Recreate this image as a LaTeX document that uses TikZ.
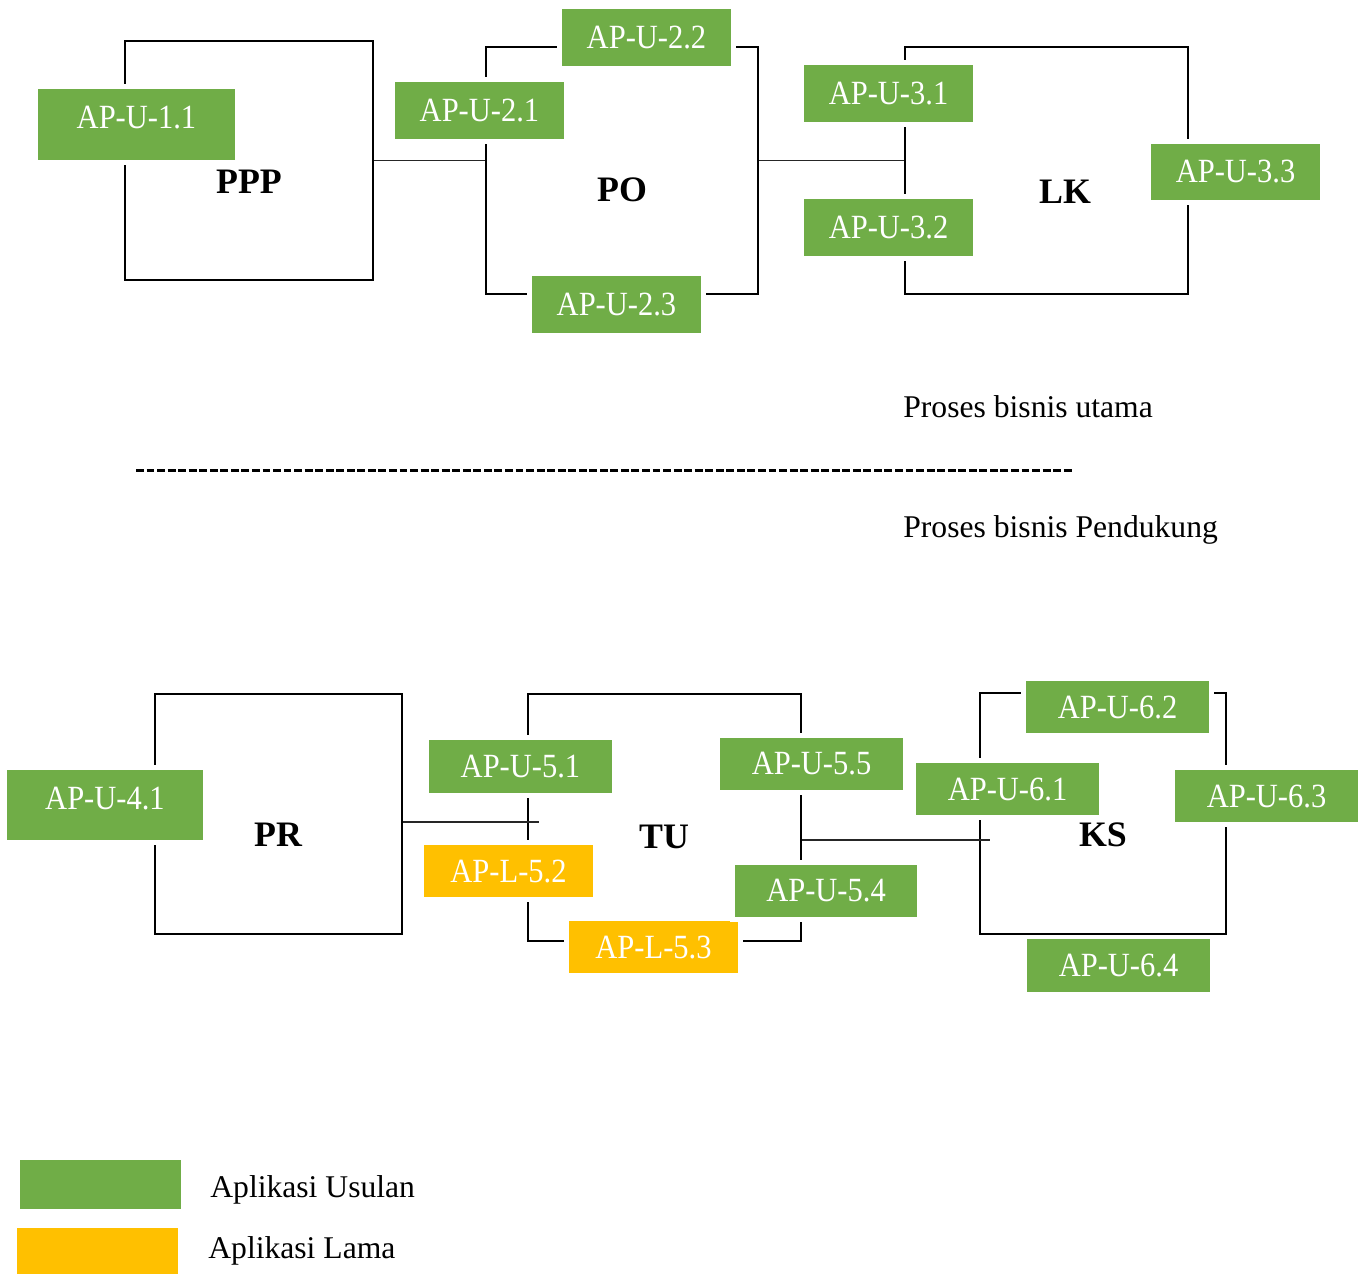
\documentclass[tikz,border=0pt]{standalone}
\usepackage{fontspec}
\setmainfont{Liberation Serif}
\newfontfamily\appfont[FakeStretch=0.9]{Liberation Serif}
\definecolor{usulan}{HTML}{70AD47}
\definecolor{lama}{HTML}{FFC000}
\tikzset{
  procbox/.style={draw=black, line width=1.4pt, rectangle, inner sep=0pt},
  boxsize/.style 2 args={minimum width=#1*0.02cm, minimum height=#2*0.02cm},
  proctitle/.style={font=\fontsize{20.4}{24}\selectfont\bfseries, inner sep=0pt},
  app/.style={rectangle, inner sep=0pt, text=white,
    font=\appfont\fontsize{19.3}{23}\selectfont,
    preaction={draw=white, line width=5.6pt}},
  appnogap/.style={rectangle, inner sep=0pt, text=white,
    font=\appfont\fontsize{19.3}{23}\selectfont},
  conn/.style={draw=black!85, line width=0.6pt},
  caption/.style={font=\fontsize{18}{22}\selectfont, inner sep=0pt, anchor=base west},
  legendbox/.style={rectangle, inner sep=0pt},
  separator/.style={line width=1.7pt, dash pattern=on 4.5pt off 1.5pt}
}
\begin{document}
\begin{tikzpicture}[x=0.02cm, y=-0.02cm]
\useasboundingbox (0,0) rectangle (1364,1275);

% ---- main business processes ----
\node[procbox, boxsize={248}{239}] (ppp) at (249,160.5) {};
\node[procbox, boxsize={272}{247}] (po) at (622,170.5) {};
\node[procbox, boxsize={283}{247}] (lk) at (1046.5,170.5) {};

\draw[conn] (ppp.east) -- (ppp.east -| po.west);
\draw[conn] (po.east |- ppp.east) -- (lk.west |- ppp.east);

\node[proctitle] (pppt) at (249,182) {PPP};
\node[proctitle] (pot) at (622,190) {PO};
\node[proctitle] (lkt) at (1065,192) {LK};

\node[app, fill=usulan, boxsize={197}{71}] (u11) at (136.5,124.5) {\raisebox{4.2pt}[\height][\depth]{AP-U-1.1}};
\node[app, fill=usulan, boxsize={169}{57}] (u21) at (479.5,110.5) {AP-U-2.1};
\node[app, fill=usulan, boxsize={169}{57}] (u22) at (646.5,37.5) {AP-U-2.2};
\node[app, fill=usulan, boxsize={169}{57}] (u23) at (616.5,304.5) {AP-U-2.3};
\node[app, fill=usulan, boxsize={169}{57}] (u31) at (888.5,93.5) {AP-U-3.1};
\node[app, fill=usulan, boxsize={169}{57}] (u32) at (888.5,227.5) {AP-U-3.2};
\node[app, fill=usulan, boxsize={169}{56}] (u33) at (1235.5,172) {AP-U-3.3};

% ---- captions and separator ----
\node[caption] (cap1) at (903,417) {Proses bisnis utama};
\coordinate (sepL) at (136,470);
\coordinate (sepR) at (1072,470);
\draw[separator] (sepL) -- (sepR);
\node[caption] (cap2) at (903,537) {Proses bisnis Pendukung};

% ---- supporting business processes ----
\node[procbox, boxsize={247}{240}] (pr) at (278.5,814) {};
\node[procbox, boxsize={273}{247}] (tu) at (664.5,817.5) {};
\node[procbox, boxsize={246}{241}] (ks) at (1103,813.5) {};

\coordinate (prtu) at (539,822);
\coordinate (tuks) at (990,840);
\draw[conn] (pr.east |- prtu) -- (prtu);
\draw[conn] (tu.east |- tuks) -- (tuks);

\node[proctitle] (prt) at (278,835) {PR};
\node[proctitle] (tut) at (664,837) {TU};
\node[proctitle] (kst) at (1103,835) {KS};

\node[app, fill=usulan, boxsize={196}{70}] (u41) at (105,805) {\raisebox{3.4pt}[\height][\depth]{AP-U-4.1}};
\node[app, fill=usulan, boxsize={183}{53}] (u51) at (520.5,766.5) {AP-U-5.1};
\node[app, fill=lama, boxsize={169}{52}] (l52) at (508.5,871) {AP-L-5.2};
\node[app, fill=lama, boxsize={169}{52}] (l53) at (653.5,947) {AP-L-5.3};
\node[app, fill=usulan, boxsize={183}{52}] (u55) at (811.5,764) {AP-U-5.5};
\node[app, fill=usulan, boxsize={182}{52}] (u54) at (826,891) {AP-U-5.4};
\node[app, fill=usulan, boxsize={183}{52}] (u62) at (1117.5,707) {AP-U-6.2};
\node[app, fill=usulan, boxsize={183}{52}] (u61) at (1007.5,789) {AP-U-6.1};
\node[app, fill=usulan, boxsize={183}{52}] (u63) at (1266.5,796) {AP-U-6.3};
\node[appnogap, fill=usulan, boxsize={183}{53}] (u64) at (1118.5,965) {AP-U-6.4};

% ---- legend ----
\node[legendbox, fill=usulan, boxsize={161}{49}] (legU) at (100.5,1184.5) {};
\node[legendbox, fill=lama, boxsize={161}{46}] (legL) at (97.5,1251) {};
\node[caption] (legUt) at (210,1197) {Aplikasi Usulan};
\node[caption] (legLt) at (208,1258) {Aplikasi Lama};
\end{tikzpicture}
\end{document}
